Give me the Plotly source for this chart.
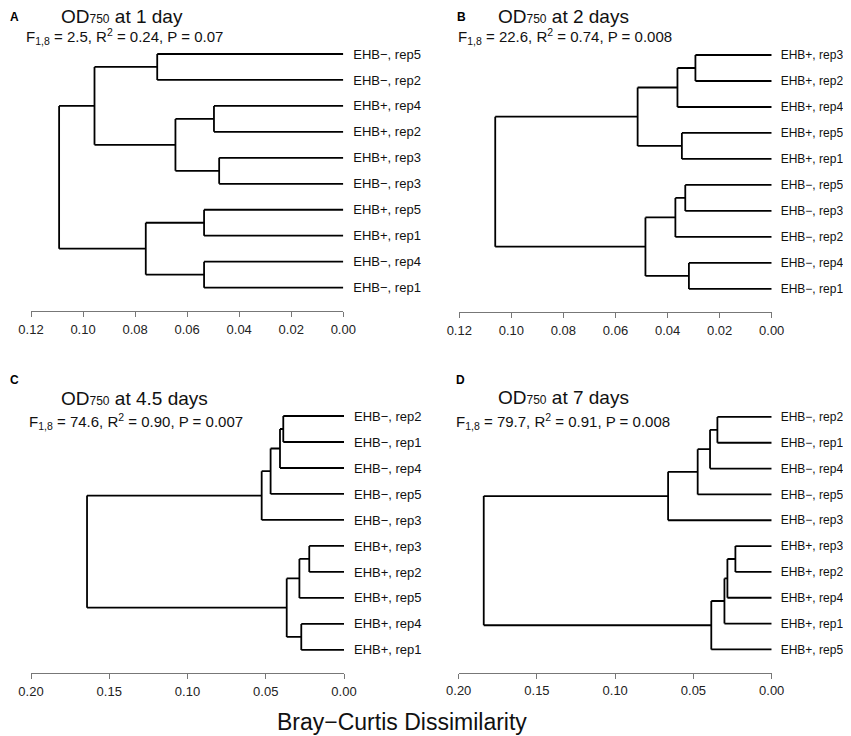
import plotly.graph_objects as go

# --- DATA ---
# leaves listed top to bottom; merges are (child_a, child_b, height),
# children < 10 are leaves, >= 10 refer to earlier merges (10 + index)
LEAVES_A = ["EHB−, rep5", "EHB−, rep2", "EHB+, rep4", "EHB+, rep2", "EHB+, rep3",
            "EHB−, rep3", "EHB+, rep5", "EHB+, rep1", "EHB−, rep4", "EHB−, rep1"]
MERGES_A = [(0, 1, 0.0715), (2, 3, 0.0497), (4, 5, 0.0477), (11, 12, 0.0645),
            (10, 13, 0.0956), (6, 7, 0.0535), (8, 9, 0.0535), (15, 16, 0.0759),
            (14, 17, 0.1092)]

LEAVES_B = ["EHB+, rep3", "EHB+, rep2", "EHB+, rep4", "EHB+, rep5", "EHB+, rep1",
            "EHB−, rep5", "EHB−, rep3", "EHB−, rep2", "EHB−, rep4", "EHB−, rep1"]
MERGES_B = [(0, 1, 0.0293), (10, 2, 0.0362), (3, 4, 0.0345), (11, 12, 0.0515),
            (5, 6, 0.0332), (14, 7, 0.0370), (8, 9, 0.0318), (15, 16, 0.0485),
            (13, 17, 0.1062)]

LEAVES_C = ["EHB−, rep2", "EHB−, rep1", "EHB−, rep4", "EHB−, rep5", "EHB−, rep3",
            "EHB+, rep3", "EHB+, rep2", "EHB+, rep5", "EHB+, rep4", "EHB+, rep1"]
MERGES_C = [(0, 1, 0.0388), (10, 2, 0.0409), (11, 3, 0.0469), (12, 4, 0.0526),
            (5, 6, 0.0222), (14, 7, 0.0285), (8, 9, 0.0273), (15, 16, 0.0366),
            (13, 17, 0.1642)]

LEAVES_D = ["EHB−, rep2", "EHB−, rep1", "EHB−, rep4", "EHB−, rep5", "EHB−, rep3",
            "EHB+, rep3", "EHB+, rep2", "EHB+, rep4", "EHB+, rep1", "EHB+, rep5"]
MERGES_D = [(0, 1, 0.0347), (10, 2, 0.0394), (11, 3, 0.0473), (12, 4, 0.0662),
            (5, 6, 0.0232), (14, 7, 0.0283), (15, 8, 0.0302), (16, 9, 0.0386),
            (13, 17, 0.1840)]

TICKS_AB = [0.12, 0.10, 0.08, 0.06, 0.04, 0.02, 0.00]
TICKS_CD = [0.20, 0.15, 0.10, 0.05, 0.00]

LETTERS = ["A", "B", "C", "D"]
TITLES = ["1 day", "2 days", "4.5 days", "7 days"]
STATS = [("2.5", "0.24", "0.07"), ("22.6", "0.74", "0.008"),
         ("74.6", "0.90", "0.007"), ("79.7", "0.91", "0.008")]

# the page body has an 8px margin, so the figure is sized to fit inside the
# 851x736 window and positions below are given in window pixels
OFF = 8
W, H = 851 - OFF, 736 - OFF
FONT = "Liberation Sans, Arial, Helvetica, sans-serif"


def px_x(x):
    return max(x - OFF, 0) / W


def px_y(y):
    return 1 - (y - OFF) / H


def dendro_segments(merges, n):
    """Turns a merge list into x/y line coords (x = height, y = leaf slot)."""
    pos = {i: float(i) for i in range(n)}
    hgt = {i: 0.0 for i in range(n)}
    xs, ys = [], []
    for k, (a, b, h) in enumerate(merges):
        for c in (a, b):
            xs += [hgt[c], h, None]
            ys += [pos[c], pos[c], None]
        xs += [h, h, None]
        ys += [pos[a], pos[b], None]
        pos[n + k] = (pos[a] + pos[b]) / 2
        hgt[n + k] = h
    return xs, ys


# panel boxes in window px: x-left, x-right, y-top, y-bottom (axis line)
# text spots: letter x,y / title x,y / stats x,y ; last = leaf label size
panels = [
    (LEAVES_A, MERGES_A, TICKS_AB, (31.0, 343.3, 41.0, 311.0), (3, 17, 59, 17, 24, 37), 13),
    (LEAVES_B, MERGES_B, TICKS_AB, (459.3, 771.7, 42.0, 312.3), (455, 17, 496, 17, 456, 37), 12),
    (LEAVES_C, MERGES_C, TICKS_CD, (31.0, 344.0, 403.0, 673.3), (4, 380, 59, 398, 27, 421), 13),
    (LEAVES_D, MERGES_D, TICKS_CD, (458.7, 771.7, 404.0, 672.7), (454, 380, 496, 397, 454, 421), 12),
]

fig = go.Figure()
annotations = []

for i, (leaves, merges, ticks, box, tpos, lsize) in enumerate(panels):
    n = len(leaves)
    xs, ys = dendro_segments(merges, n)
    suffix = "" if i == 0 else str(i + 1)
    fig.add_trace(go.Scatter(x=xs, y=ys, mode="lines", line=dict(color="black", width=1.8),
                             hoverinfo="skip", showlegend=False,
                             xaxis="x" + suffix, yaxis="y" + suffix))

    x0, x1, y0, y1 = box
    fig.layout["xaxis" + suffix] = dict(
        domain=[px_x(x0), px_x(x1)], range=[ticks[0], ticks[-1]], anchor="y" + suffix,
        tickvals=ticks, ticktext=[f"{t:.2f}" for t in ticks],
        showline=True, linecolor="#777777", linewidth=1.2,
        ticks="outside", ticklen=5, tickcolor="#777777", tickwidth=1.2,
        showgrid=False, zeroline=False, automargin=False, ticklabelstandoff=1,
        tickfont=dict(family=FONT, size=13, color="#222222"))
    fig.layout["yaxis" + suffix] = dict(
        domain=[px_y(y1), px_y(y0)], range=[9.9, -0.5], anchor="x" + suffix,
        side="right", tickvals=list(range(n)), ticktext=leaves,
        ticks="", showline=False, showgrid=False, zeroline=False, automargin=False,
        ticklabelstandoff=9 if lsize == 13 else 8,
        tickfont=dict(family=FONT, size=lsize, color="#111111"))

    lx, ly, tx, ty, sx, sy = tpos
    f, r2, p = STATS[i]
    annotations += [
        dict(text=f"<b>{LETTERS[i]}</b>", x=px_x(lx), y=px_y(ly), xanchor="left", yanchor="middle",
             font=dict(family=FONT, size=12, color="black")),
        dict(text=f"OD<span style='font-size:12px'>750</span> at {TITLES[i]}",
             x=px_x(tx), y=px_y(ty), xanchor="left", yanchor="middle",
             font=dict(family=FONT, size=19, color="#111111")),
        dict(text=f"F<sub>1,8</sub> = {f}, R<sup>2</sup> = {r2}, P = {p}",
             x=px_x(sx), y=px_y(sy), xanchor="left", yanchor="middle",
             font=dict(family=FONT, size=15, color="#111111")),
    ]

annotations.append(dict(text="Bray−Curtis Dissimilarity", x=px_x(402), y=px_y(722),
                        xanchor="center", yanchor="middle",
                        font=dict(family=FONT, size=23, color="#111111")))
for a in annotations:
    a.update(xref="paper", yref="paper", showarrow=False)

fig.update_layout(width=W, height=H, margin=dict(l=0, r=0, t=0, b=0),
                  paper_bgcolor="white", plot_bgcolor="white",
                  annotations=annotations, showlegend=False)

fig.write_html("out.html")
